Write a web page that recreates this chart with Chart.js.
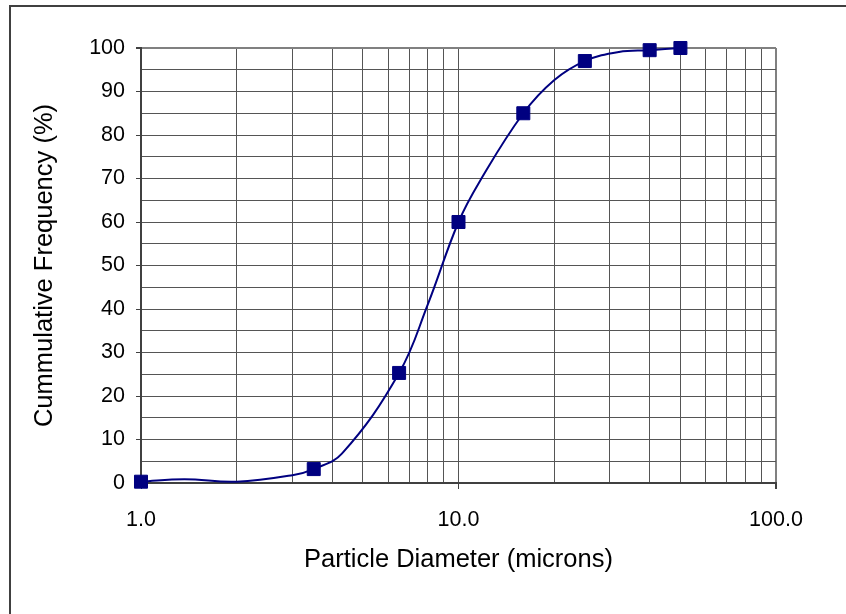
<!DOCTYPE html>
<html>
<head>
<meta charset="utf-8">
<script src="https://cdn.jsdelivr.net/npm/chart.js@4/dist/chart.umd.min.js"></script>
<style>
  html, body { margin: 0; padding: 0; background: #fff; }
  #wrap { width: 846px; height: 614px; position: relative; }
</style>
</head>
<body>
<div id="wrap"><canvas id="c" width="846" height="614"></canvas></div>
<script>
// Measured particle sizes (microns) and cumulative frequency (%) - markers
const sizes = [1.0, 3.5, 6.5, 10, 16, 25, 40, 50];
const cumFreq = [0.3, 3.2, 25.3, 60, 85, 97, 99.5, 100];

// Smoothed curve
const curveSizes = [1.0, 1.37, 2.0, 3.0, 3.5, 4.3, 6.5, 8.0, 10, 11.7, 16, 20, 25, 32, 40, 50];
const curveFreq  = [0.3, 0.85, 0.3, 1.8, 3.2, 6.8, 25.3, 41, 60, 69.5, 85, 92.6, 97, 99.1, 99.5, 100];

// Axis ticks
const xGridValues = [1,2,3,4,5,6,7,8,9,10,20,30,40,50,60,70,80,90,100];
const xLabelValues = [1, 10, 100];
const yMin = 0, yMax = 100, yStep = 5, yLabelStep = 10;

const xTitle = 'Particle Diameter (microns)';
const yTitle = 'Cummulative Frequency (%)';

Chart.defaults.font.family = '"Liberation Sans", Arial, sans-serif';
Chart.defaults.color = '#000';

const framePlugin = {
  id: 'frame',
  afterDraw(chart) {
    const ctx = chart.ctx;
    ctx.save();
    ctx.strokeStyle = '#404040';
    ctx.lineWidth = 2;
    ctx.beginPath();
    ctx.moveTo(10, 614);
    ctx.lineTo(10, 6);
    ctx.lineTo(846, 6);
    ctx.stroke();
    ctx.restore();
  }
};

new Chart(document.getElementById('c'), {
  type: 'scatter',
  data: {
    datasets: [
      {
        label: 'curve',
        type: 'line',
        data: curveSizes.map((x, i) => ({ x: x, y: curveFreq[i] })),
        borderColor: '#000080',
        borderWidth: 2,
        pointRadius: 0,
        fill: false,
        tension: 0.4,
        clip: false,
        order: 2
      },
      {
        label: 'data',
        data: sizes.map((x, i) => ({ x: x, y: cumFreq[i] })),
        pointStyle: 'rect',
        pointRadius: 9.2,
        pointBackgroundColor: '#000080',
        pointBorderColor: '#000080',
        pointBorderWidth: 1,
        showLine: false,
        clip: false,
        order: 1
      }
    ]
  },
  options: {
    responsive: false,
    animation: false,
    events: [],
    layout: { padding: { left: 0, top: 48, right: 70, bottom: 0 } },
    plugins: { legend: { display: false }, tooltip: { enabled: false } },
    scales: {
      x: {
        type: 'logarithmic',
        min: 1,
        max: 100,
        afterBuildTicks(scale) {
          scale.ticks = xGridValues.map(v => ({ value: v, major: xLabelValues.includes(v) }));
        },
        afterFit(scale) { scale.height = 131; },
        ticks: {
          autoSkip: false,
          maxRotation: 0,
          minRotation: 0,
          padding: 18,
          font: { size: 21.5 },
          color: '#000',
          callback: (v) => xLabelValues.includes(v) ? Number(v).toFixed(1) : ''
        },
        grid: {
          color: (c) => (c.tick && c.tick.value === 100) ? '#808080' : '#555555',
          lineWidth: (c) => (c.tick && c.tick.value === 100) ? 2 : 1,
          tickColor: (c) => (c.tick && xLabelValues.includes(c.tick.value)) ? '#404040' : 'rgba(0,0,0,0)',
          tickLength: 6,
          drawOnChartArea: true
        },
        border: { display: true, color: '#404040', width: 2 },
        title: {
          display: true,
          text: xTitle,
          font: { size: 25.5 },
          color: '#000',
          padding: { top: 0, bottom: 39 }
        }
      },
      y: {
        type: 'linear',
        min: yMin,
        max: yMax,
        afterFit(scale) { scale.width = 141; },
        ticks: {
          stepSize: yStep,
          autoSkip: false,
          padding: 11,
          font: { size: 21.5 },
          color: '#000',
          callback: (v) => (v % yLabelStep === 0) ? String(v) : ''
        },
        grid: {
          color: (c) => (c.tick && c.tick.value === 100) ? '#808080' : '#555555',
          lineWidth: (c) => (c.tick && c.tick.value === 100) ? 2 : 1,
          tickColor: (c) => (c.tick && c.tick.value % yLabelStep === 0) ? '#404040' : 'rgba(0,0,0,0)',
          tickLength: 5
        },
        border: { display: true, color: '#404040', width: 2 },
        title: {
          display: true,
          text: yTitle,
          font: { size: 25.5 },
          color: '#000',
          padding: { top: 30, bottom: 0 }
        }
      }
    }
  },
  plugins: [framePlugin]
});
</script>
</body>
</html>
